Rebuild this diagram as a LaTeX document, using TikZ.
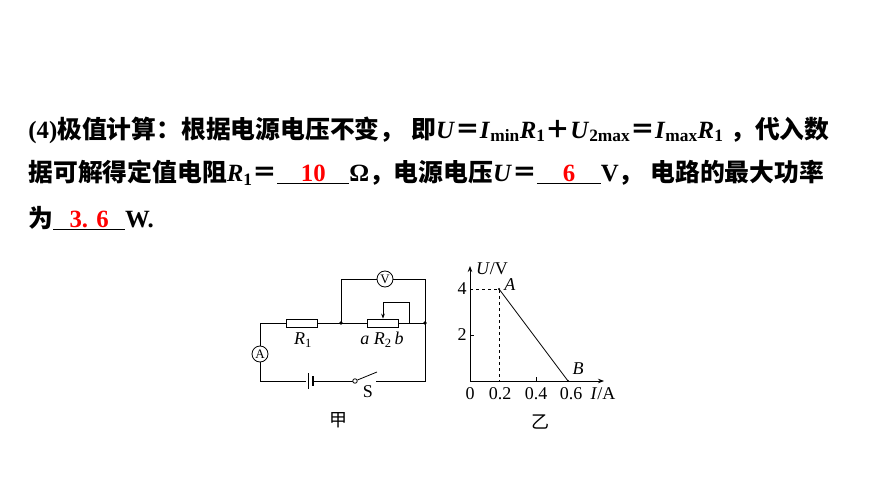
\documentclass[tikz,border=0pt]{standalone}
\usepackage{fontspec}
\setmainfont{Liberation Serif}
\newfontfamily\cjk{Noto Sans CJK SC}
\usetikzlibrary{arrows.meta}
\newcommand{\zh}[1]{{\cjk\bfseries #1}}
\newcommand{\vi}[1]{\textit{#1}}
\newcommand{\sub}[1]{\textsubscript{#1}}
\newcommand{\blank}[2]{\underline{\makebox[#1]{\textcolor{red}{#2}}}}
\tikzset{every picture/.style={line width=0.75pt}}
\tikzset{
  para/.style={anchor=west,inner sep=0pt,font=\fontsize{24.8}{28}\selectfont\bfseries},
  lbl/.style={inner sep=0pt,font=\fontsize{18}{20}\selectfont},
  meter/.style={draw,circle,minimum size=16pt,inner sep=0pt,fill=white,font=\fontsize{13}{14}\selectfont},
  res/.style={draw,minimum width=31pt,minimum height=8pt,inner sep=0pt,fill=white},
  dot/.style={circle,fill,inner sep=1.3pt}
}
\begin{document}
\begin{tikzpicture}[x=1pt,y=1pt,yscale=-1,line width=0.8pt]
\useasboundingbox (0,0) rectangle (870,489);

% Text lines
\node[para] (l1) at (28,130) {(4)\zh{极值计算：根据电源电压不变，}\;\zh{即}\vi{U}\zh{＝}\vi{I}\sub{min}\vi{R}\sub{1}\zh{＋}\vi{U}\sub{2max}\zh{＝}\vi{I}\sub{max}\vi{R}\sub{1}\;\zh{，代入数}};
\node[para] (l2) at (28,173) {\zh{据可解得定值电阻}\vi{R}\sub{1}\zh{＝}\blank{72pt}{10}Ω\zh{，电源电压}\vi{U}\zh{＝}\blank{64pt}{6}V\zh{，}\;\zh{电路的最大功率}};
\node[para] (l3) at (28,218) {\zh{为}\blank{72pt}{3. 6}W.};

% Circuit
\coordinate (tl) at (260,323);
\coordinate (bl) at (260,381);
\coordinate (br) at (425,381);
\coordinate (jr) at (425,323);
\coordinate (jl) at (341,323);
\coordinate (vl) at (341,279);
\coordinate (vr) at (425,279);
\coordinate (wt) at (383,302);
\coordinate (wr) at (409,302);
\coordinate (wb) at (409,323);
\draw (bl) -- (tl) -- (jr) -- (br) -- (bl);
\draw (jl) -- (vl) -- (vr) -- (jr);
\node[res] (r1) at (302,323) {};
\node[res] (r2) at (383,323) {};
\draw[-{Stealth[length=5pt]}] (wr) -- (wt) -- (r2.north);
\draw (wr) -- (wb);
\node[meter] (vm) at (385,279) {V};
\node[meter] (am) at (260,354) {A};
\node[dot] (d1) at (jl) {};
\node[dot] (d2) at (jr) {};
% battery
\fill[white] (306,376) rectangle (314,386);
\draw[line width=1pt] (308,373) -- (308,389);
\draw[line width=2pt] (313,376) -- (313,386);
% switch
\fill[white] (356,377) rectangle (376,385);
\node[draw,circle,inner sep=1.6pt,fill=white] (sw) at (355,381) {};
\draw (sw) -- (377,372);
\node[lbl] (lr1) at (303,340) {\vi{R}\sub{1}};
\node[lbl] (lr2) at (382,340) {\vi{a} \vi{R}\sub{2}\,\vi{b}};
\node[lbl] (ls) at (368,392) {S};
\node[lbl] (cap1) at (338,420) {\cjk 甲};

% Graph
\coordinate (o) at (470,381);
\draw[-{Stealth[length=6pt]}] (o) -- (470,266);
\draw[-{Stealth[length=6pt]}] (o) -- (604,381);
\coordinate (pa) at (499,289);
\coordinate (pb) at (568,381);
\draw[dashed] (470,289) -- (pa) -- (499,381);
\draw (pa) -- (pb);
\fill (pa) circle (1.2pt) (pb) circle (1.2pt);
\draw (470,335) -- (474,335) (536,381) -- (536,377);
\node[lbl,anchor=east] (y4) at (467,289) {4};
\node[lbl,anchor=east] (y2) at (467,335) {2};
\node[lbl] (x0) at (470,394) {0};
\node[lbl] (x2) at (500,394) {0.2};
\node[lbl] (x4) at (536,394) {0.4};
\node[lbl] (x6) at (571,394) {0.6};
\node[lbl] (xa) at (603,394) {\vi{I}/A};
\node[lbl] (ya) at (492,269) {\vi{U}/V};
\node[lbl] (la) at (510,285) {\vi{A}};
\node[lbl] (lb) at (578,369) {\vi{B}};
\node[lbl] (cap2) at (540,422) {\cjk 乙};
\end{tikzpicture}
\end{document}
